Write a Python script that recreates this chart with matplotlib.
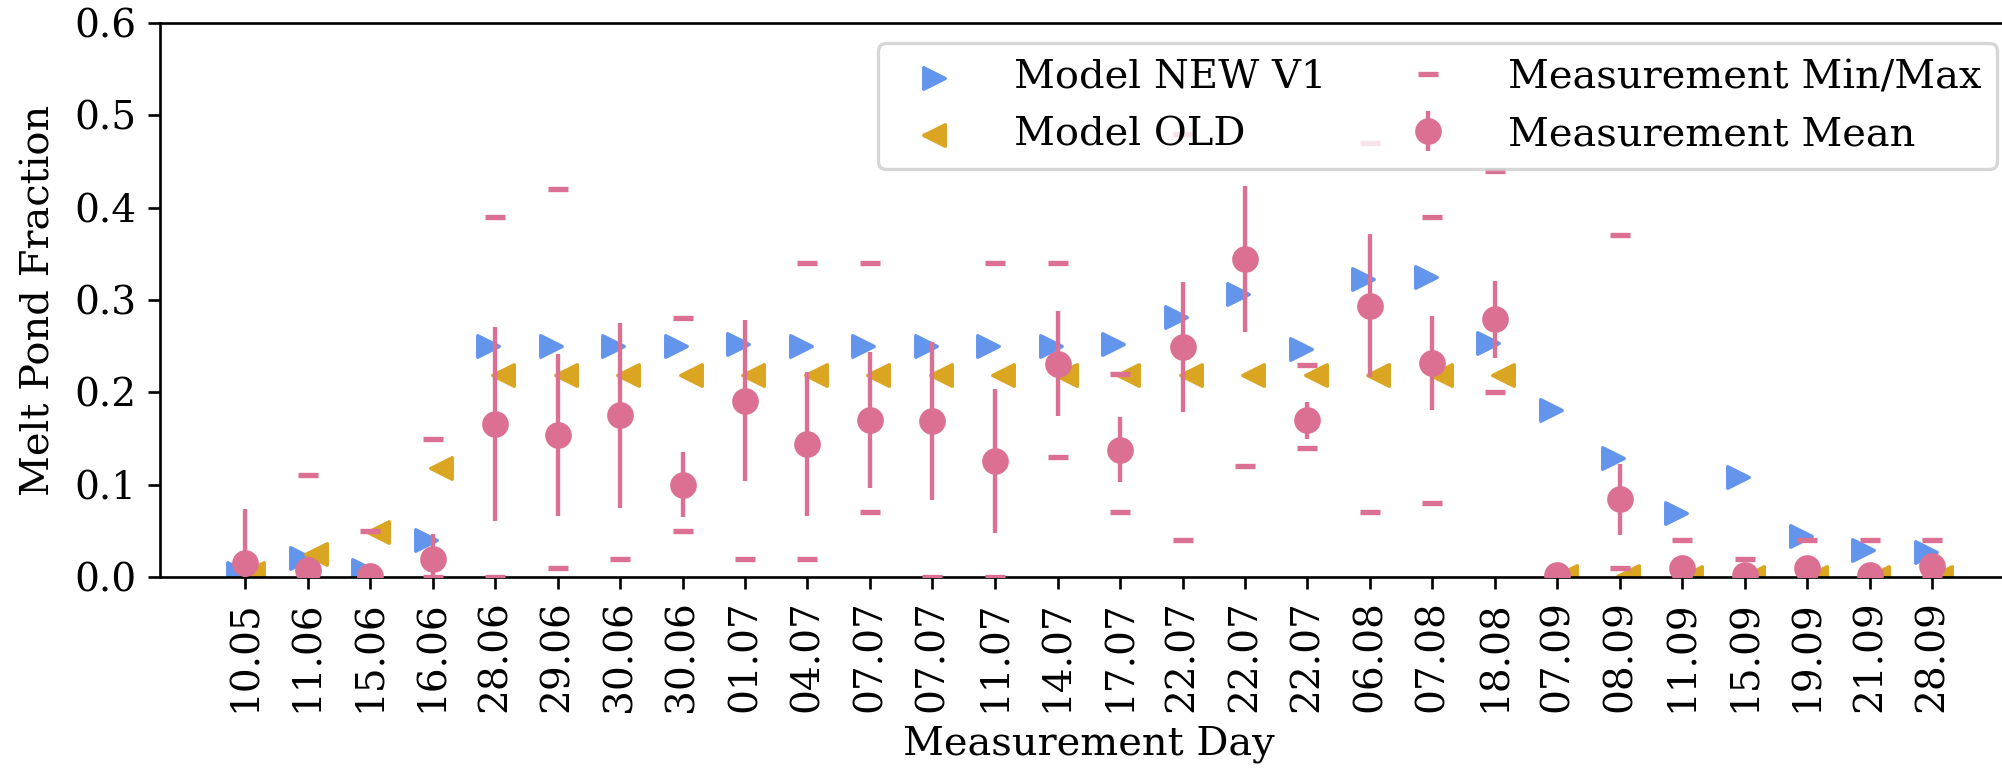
import numpy as np
import matplotlib.pyplot as plt

days = ['10.05', '11.06', '15.06', '16.06', '28.06', '29.06', '30.06', '30.06',
        '01.07', '04.07', '07.07', '07.07', '11.07', '14.07', '17.07', '22.07',
        '22.07', '22.07', '06.08', '07.08', '18.08', '07.09', '08.09', '11.09',
        '15.09', '19.09', '21.09', '28.09']

model_new = [0.004, 0.021, 0.008, 0.040, 0.250, 0.250, 0.250, 0.250, 0.252, 0.250,
             0.250, 0.250, 0.250, 0.250, 0.252, 0.282, 0.306, 0.247, 0.323, 0.325,
             0.253, 0.181, 0.129, 0.069, 0.108, 0.044, 0.029, 0.027]
model_old = [0.004, 0.025, 0.049, 0.118, 0.219, 0.219, 0.219, 0.219, 0.219, 0.219,
             0.219, 0.219, 0.219, 0.219, 0.219, 0.219, 0.219, 0.219, 0.219, 0.219,
             0.219, 0.001, 0.001, 0.0, 0.0, 0.0, 0.0, 0.0]
meas_mean = [0.015, 0.008, 0.001, 0.020, 0.166, 0.154, 0.175, 0.100, 0.191, 0.144,
             0.170, 0.169, 0.126, 0.231, 0.138, 0.249, 0.344, 0.170, 0.294, 0.232,
             0.279, 0.002, 0.084, 0.010, 0.002, 0.010, 0.002, 0.012]
meas_std = [0.059, 0.005, 0.0, 0.027, 0.105, 0.088, 0.100, 0.035, 0.087, 0.078,
            0.074, 0.086, 0.078, 0.057, 0.035, 0.070, 0.079, 0.020, 0.077, 0.051,
            0.042, 0.0, 0.038, 0.0, 0.0, 0.0, 0.0, 0.0]
meas_min = [np.nan, 0.0, 0.0, 0.0, 0.0, 0.01, 0.02, 0.05, 0.02, 0.02,
            0.07, 0.0, 0.0, 0.13, 0.07, 0.04, 0.12, 0.14, 0.07, 0.08,
            0.20, 0.0, 0.01, 0.0, 0.0, 0.0, 0.0, 0.0]
meas_max = [np.nan, 0.11, 0.05, 0.15, 0.39, 0.42, np.nan, 0.28, np.nan, 0.34,
            0.34, 0.48, 0.34, 0.34, 0.22, 0.48, np.nan, 0.23, 0.47, 0.39,
            0.44, 0.0, 0.37, 0.04, 0.02, 0.04, 0.04, 0.04]

plt.rcParams['font.family'] = 'DejaVu Serif'

W, H, dpi = 2002, 771, 240
fig = plt.figure(figsize=(W / dpi, H / dpi), dpi=dpi)
ax = fig.add_axes([160 / W, (H - 577) / H, (2017.5 - 160) / W, 554 / H])

x = np.arange(len(days))
blue = '#6495ED'
gold = '#DAA520'
pink = '#DB7093'

# model markers sit a little left / right of the day tick
ax.scatter(x - 0.11, model_new, marker='>', s=42, color=blue, label='Model NEW V1', zorder=2)
ax.scatter(x + 0.13, model_old, marker='<', s=42, color=gold, label='Model OLD', zorder=2)
ax.plot(x, meas_max, ls='none', marker='_', ms=6.2, mew=1.6, color=pink,
        label='Measurement Min/Max', zorder=3)
ax.plot(x, meas_min, ls='none', marker='_', ms=6.2, mew=1.6, color=pink, zorder=3)
ax.errorbar(x, meas_mean, yerr=meas_std, fmt='o', ms=7, color=pink,
            elinewidth=1.3, capsize=0, label='Measurement Mean', zorder=4)

ax.set_xlim(-1.36, 28.36)
ax.set_ylim(0, 0.6)
ax.set_yticks(np.arange(0, 0.61, 0.1))
ax.set_xticks(x)
ax.set_xticklabels(days, rotation=90)
ax.tick_params(labelsize=11.7)
ax.set_xlabel('Measurement Day', fontsize=12)
ax.set_ylabel('Melt Pond Fraction', fontsize=12, labelpad=5)

ax.legend(loc='upper right', ncol=2, fontsize=12, handletextpad=1.0,
          columnspacing=1.55)

fig.savefig('out.png', dpi=dpi)
